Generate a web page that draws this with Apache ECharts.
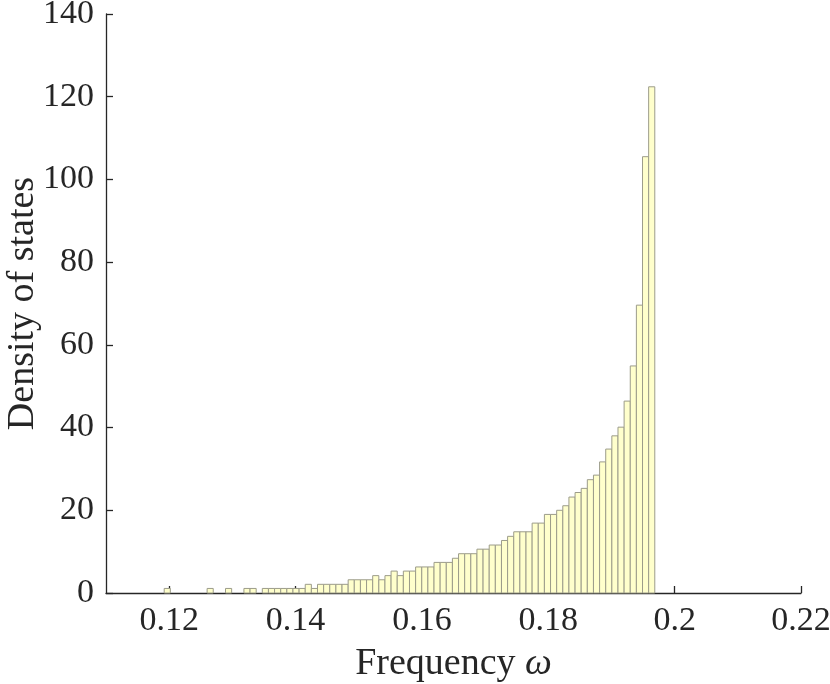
<!DOCTYPE html>
<html><head><meta charset="utf-8">
<script src="https://cdn.jsdelivr.net/npm/echarts@6/dist/echarts.min.js"></script>
<style>html,body{margin:0;padding:0;background:#fff}#c{width:830px;height:684px}</style>
</head><body><div id="c"></div>
<script>
// Histogram bins (80 bins of equal width)
const binStart = 0.11921;
const binWidth = 0.0009706;
const density = [
  1.1,0,0,0,0,0,0,1.1,0,0,
  1.1,0,0,1.1,1.1,0,1.1,1.1,1.1,1.1,
  1.1,1.1,1.1,2.1,1.1,2.1,2.1,2.1,2.1,2.1,
  3.2,3.2,3.2,3.2,4.2,3.2,4.2,5.3,4.2,5.3,
  5.3,6.3,6.3,6.3,7.4,7.4,7.4,8.4,9.5,9.5,
  9.5,10.6,10.6,11.6,11.6,12.7,13.7,14.8,14.8,14.8,
  16.9,16.9,19.0,19.0,20.0,21.1,23.2,24.3,25.3,27.4,
  28.5,31.7,34.8,38.0,40.1,46.4,54.9,69.6,105.5,122.4
];
const xTicks = [0.12, 0.14, 0.16, 0.18, 0.2, 0.22];
const yTicks = [0, 20, 40, 60, 80, 100, 120, 140];

const data = density.map((v, i) => [binStart + i * binWidth, binStart + (i + 1) * binWidth, v]);

const FONT = 'Liberation Serif';
const AX = '#262626';
const chart = echarts.init(document.getElementById('c'), null, {renderer: 'canvas'});
chart.setOption({
  animation: false,
  backgroundColor: '#ffffff',
  grid: {left: 106, right: 29, top: 14, bottom: 91, containLabel: false, outerBoundsMode: 'none'},
  xAxis: {
    type: 'value', min: 0.11, max: 0.22,
    axisLine: {show: true, lineStyle: {color: AX, width: 1.3}},
    axisTick: {show: true, inside: true, length: 7, customValues: xTicks, lineStyle: {color: AX, width: 1.3}},
    axisLabel: {customValues: xTicks, fontFamily: FONT, fontSize: 34, color: AX, margin: 11,
      formatter: v => String(+v.toFixed(2))},
    splitLine: {show: false},
    name: 'Frequency {i|ω}', nameLocation: 'middle', nameGap: 52, nameMoveOverlap: false,
    nameTextStyle: {fontFamily: FONT, fontSize: 38, color: AX,
      rich: {i: {fontFamily: FONT, fontSize: 38, fontStyle: 'italic', color: AX}}}
  },
  yAxis: {
    type: 'value', min: 0, max: 140, interval: 20,
    axisLine: {show: true, lineStyle: {color: AX, width: 1.3}},
    axisTick: {show: true, inside: true, length: 7, customValues: yTicks, lineStyle: {color: AX, width: 1.3}},
    axisLabel: {customValues: yTicks, fontFamily: FONT, fontSize: 34, color: AX, margin: 12},
    splitLine: {show: false},
    name: 'Density of states', nameLocation: 'middle', nameRotate: 90, nameGap: 64, nameMoveOverlap: false,
    nameTextStyle: {fontFamily: FONT, fontSize: 38, color: AX}
  },
  series: [{
    type: 'custom',
    data: data,
    encode: {x: [0, 1], y: 2},
    renderItem: function (params, api) {
      const v = api.value(2);
      if (!v) return null;
      const p0 = api.coord([api.value(0), v]);
      const p1 = api.coord([api.value(1), 0]);
      return {
        type: 'rect',
        shape: {x: p0[0], y: p0[1], width: p1[0] - p0[0], height: p1[1] - p0[1]},
        style: {fill: '#ffffcc', stroke: '#9c9c8a', lineWidth: 1}
      };
    }
  }]
});
</script>
</body></html>
